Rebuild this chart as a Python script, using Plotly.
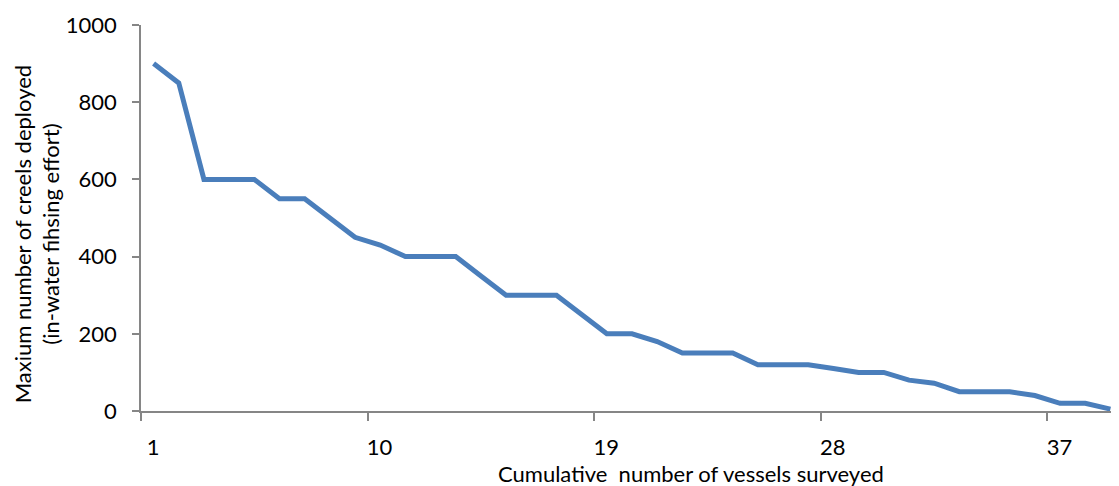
import plotly.graph_objects as go

# ---- data ----
vessels = list(range(1, 40))
creels = [900, 850, 600, 600, 600, 550, 550, 500, 450, 430,
          400, 400, 400, 350, 300, 300, 300, 250, 200, 200,
          180, 150, 150, 150, 120, 120, 120, 110, 100, 100,
          80, 72, 50, 50, 50, 40, 20, 20, 5]
x_tick_labels = ["1", "10", "19", "28", "37"]
y_ticks = [0, 200, 400, 600, 800, 1000]
x_title = "Cumulative  number of vessels surveyed"
y_title = "Maxium number of creels deployed<br>(in-water fihsing effort)"

FONT = "Lato"
AXIS = "#868686"

fig = go.Figure()
fig.add_trace(go.Scatter(
    x=vessels, y=creels, mode="lines",
    line=dict(color="#4A7EBB", width=5),
    showlegend=False, hoverinfo="skip"))

# category boundaries (Excel style: ticks between categories, labels centred)
x_tickvals = [int(t) - 0.5 for t in x_tick_labels]

fig.update_layout(
    width=1119, height=486,
    margin=dict(l=133, r=4, t=17, b=83),
    paper_bgcolor="white", plot_bgcolor="white",
    font=dict(family=FONT, color="#000000"),
    xaxis=dict(
        range=[0.5, 39.5], tickmode="array",
        tickvals=x_tickvals, ticktext=x_tick_labels,
        ticks="outside", ticklen=8, tickwidth=1.5, tickcolor=AXIS,
        showline=True, linecolor=AXIS, linewidth=1.5,
        showgrid=False, zeroline=False,
        tickfont=dict(family=FONT, size=22, color="#000"),
        ticklabelshift=12, ticklabelstandoff=8,
    ),
    yaxis=dict(
        range=[0, 1000], tickmode="array", tickvals=y_ticks,
        ticks="outside", ticklen=7, tickwidth=1.5, tickcolor=AXIS,
        showline=True, linecolor=AXIS, linewidth=1.5,
        showgrid=False, zeroline=False,
        tickfont=dict(family=FONT, size=22, color="#000"),
        ticklabelstandoff=11,
    ),
    annotations=[
        dict(text=x_title, xref="paper", yref="paper",
             x=0.560, y=-0.161, xanchor="center", yanchor="middle",
             showarrow=False, font=dict(family=FONT, size=22, color="#000")),
        dict(text=y_title, xref="paper", yref="paper",
             x=-0.1065, y=0.459, xanchor="center", yanchor="middle",
             textangle=-90, showarrow=False,
             font=dict(family=FONT, size=22, color="#000")),
    ],
)

fig.write_html("out.html")
